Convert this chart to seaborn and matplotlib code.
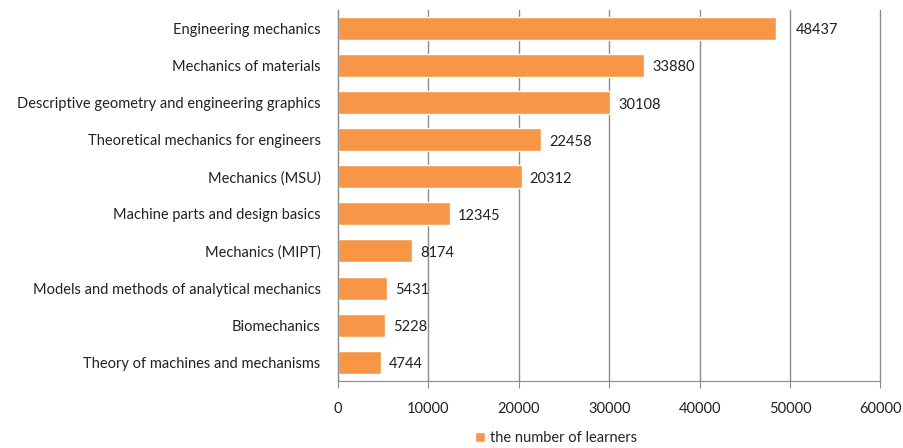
import matplotlib
matplotlib.use("Agg")
import matplotlib.pyplot as plt
import seaborn as sns
import pandas as pd

courses = ["Engineering mechanics", "Mechanics of materials",
           "Descriptive geometry and engineering graphics",
           "Theoretical mechanics for engineers", "Mechanics (MSU)",
           "Machine parts and design basics", "Mechanics (MIPT)",
           "Models and methods of analytical mechanics", "Biomechanics",
           "Theory of machines and mechanisms"]
learners = [48437, 33880, 30108, 22458, 20312, 12345, 8174, 5431, 5228, 4744]
xticks = [0, 10000, 20000, 30000, 40000, 50000, 60000]

df = pd.DataFrame({"course": courses, "learners": learners})

sns.set_style("white")
plt.rcParams['font.family'] = ['Lato', 'DejaVu Sans']

fig = plt.figure(figsize=(9.04, 4.48), dpi=100)
ax = fig.add_axes([0.374, 0.15, 0.6, 0.828])

sns.barplot(data=df, x="learners", y="course", orient="h", color="#F79646",
            saturation=1, width=0.62, ax=ax, label="the number of learners")
if ax.get_legend() is not None:
    ax.get_legend().remove()

ax.set_xlim(0, 60000)
ax.set_ylim(9.5, -0.5)
ax.set_xticks(xticks)
ax.set_xticklabels([str(t) for t in xticks], fontsize=10.5, color="#222222")
ax.set_yticklabels(courses, fontsize=10.5, color="#222222")
ax.set_xlabel("")
ax.set_ylabel("")

ax.grid(axis="x", color="#8c8c8c", linewidth=1)
for gl in ax.get_xgridlines():
    gl.set_clip_on(False)
ax.set_axisbelow(True)
for s in ["top", "right"]:
    ax.spines[s].set_visible(False)
ax.spines["left"].set_color("#8c8c8c")
ax.spines["bottom"].set_color("#8c8c8c")
ax.tick_params(axis="x", bottom=True, length=5, color="#8c8c8c", pad=10)
ax.tick_params(axis="y", left=False, pad=9)

for i, v in enumerate(learners):
    off = 20 if i == 0 else 8
    ax.annotate(str(v), (v, i), xytext=(off, -2), textcoords="offset pixels",
                va="center", ha="left", fontsize=10.5, color="#222222")

h, l = ax.get_legend_handles_labels()
fig.legend(h[:1], l[:1], loc="center", bbox_to_anchor=(0.615, 0.022), frameon=False,
           fontsize=10.5, handlelength=0.7, handleheight=0.7, handletextpad=0.3)

fig.savefig("out.png", dpi=100)
